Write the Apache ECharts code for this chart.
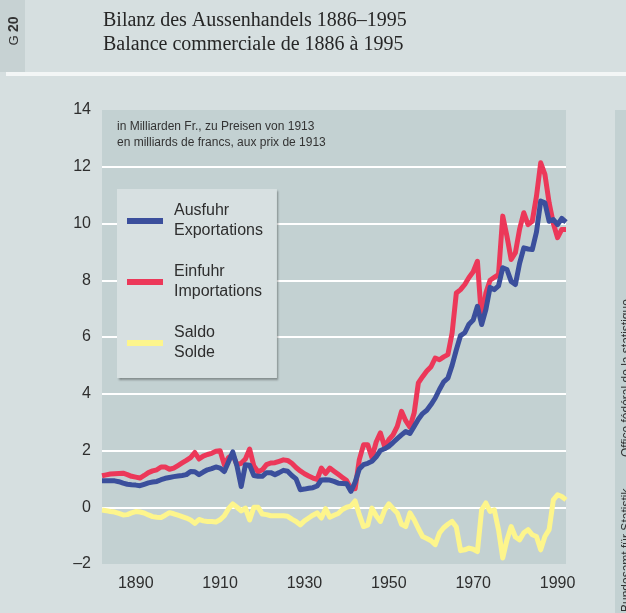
<!DOCTYPE html>
<html>
<head>
<meta charset="utf-8">
<script src="https://cdn.jsdelivr.net/npm/echarts@6/dist/echarts.min.js"></script>
<style>
html,body{margin:0;padding:0;background:#d6dfe0;}
#c{width:626px;height:613px;}
</style>
</head>
<body>
<div id="c"></div>
<script>
// Years 1882..1992 (positions follow the printed year scale)
const startYear = 1882;
const exportsVals = [
  0.93,0.93,0.93,0.93,0.90,0.85,0.81,0.79,
  0.78,0.76,0.81,0.86,0.89,0.91,0.97,1.02,1.05,1.08,
  1.10,1.12,1.15,1.26,1.25,1.15,1.24,1.32,1.36,1.42,
  1.38,1.26,1.60,1.95,1.45,0.73,1.50,1.48,1.12,1.09,
  1.09,1.22,1.22,1.15,1.22,1.30,1.27,1.12,1.00,0.62,
  0.64,0.67,0.69,0.75,0.96,0.97,0.96,0.91,0.85,0.84,
  0.83,0.56,0.88,1.35,1.50,1.55,1.62,1.78,2.00,2.06,
  2.15,2.28,2.42,2.55,2.67,2.60,2.85,3.10,3.30,3.42,
  3.62,3.85,4.15,4.42,4.55,5.00,5.55,6.05,6.15,6.45,
  6.60,7.08,6.44,6.97,7.75,7.67,7.80,8.44,8.38,7.96,
  7.85,8.60,9.14,9.10,9.08,9.70,10.79,10.73,10.08,10.14,
  9.96,10.18,10.05
];
const importsVals = [
  1.11,1.14,1.17,1.18,1.19,1.20,1.15,1.09,
  1.06,1.03,1.12,1.22,1.28,1.32,1.42,1.42,1.34,1.38,
  1.47,1.56,1.65,1.75,1.93,1.70,1.80,1.86,1.90,1.97,
  1.99,1.50,1.75,1.85,1.50,1.55,1.70,2.05,1.45,1.25,
  1.32,1.50,1.56,1.57,1.62,1.67,1.65,1.55,1.40,1.28,
  1.18,1.10,1.03,0.98,1.38,1.19,1.38,1.27,1.16,1.05,
  0.94,0.65,0.65,1.68,2.20,2.20,1.75,2.30,2.62,2.14,
  2.38,2.55,2.85,3.38,3.05,2.82,3.32,4.38,4.60,4.80,
  4.95,5.26,5.20,5.30,5.38,6.14,7.55,7.67,7.85,8.10,
  8.30,8.67,6.60,7.55,8.00,8.10,8.20,10.26,9.55,8.73,
  8.97,9.80,10.38,9.96,10.08,10.96,12.14,11.73,10.73,10.00,
  9.50,9.79,9.79
];
const saldoVals = [
  -0.10,-0.12,-0.15,-0.17,-0.22,-0.27,-0.26,-0.20,
  -0.15,-0.17,-0.20,-0.27,-0.33,-0.35,-0.36,-0.28,-0.19,-0.23,
  -0.28,-0.33,-0.38,-0.45,-0.57,-0.43,-0.48,-0.50,-0.50,-0.52,
  -0.44,-0.30,-0.05,0.12,0.00,-0.13,-0.03,-0.45,0.00,0.00,
  -0.24,-0.26,-0.30,-0.30,-0.30,-0.30,-0.32,-0.42,-0.50,-0.62,
  -0.48,-0.38,-0.28,-0.20,-0.38,-0.05,-0.35,-0.28,-0.22,-0.08,
  0.00,0.04,0.22,-0.26,-0.68,-0.63,-0.03,-0.30,-0.50,-0.10,
  0.12,-0.05,-0.20,-0.60,-0.68,-0.20,-0.44,-0.75,-1.03,-1.10,
  -1.18,-1.32,-0.91,-0.72,-0.60,-0.50,-0.70,-1.53,-1.50,-1.44,
  -1.48,-1.56,-0.09,0.15,-0.15,-0.09,-0.79,-1.79,-1.15,-0.68,
  -1.05,-1.15,-0.90,-0.79,-0.97,-1.03,-1.50,-1.03,-0.79,0.26,
  0.44,0.38,0.26
];
const xTickLabels = [1890, 1910, 1930, 1950, 1970, 1990];
const seriesNames = ['Ausfuhr\nExportations', 'Einfuhr\nImportations', 'Saldo\nSolde'];
const titleLines = ['Bilanz des Aussenhandels 1886–1995', 'Balance commerciale de 1886 à 1995'];
const unitLines = ['in Milliarden Fr., zu Preisen von 1913', 'en milliards de francs, aux prix de 1913'];
const sourceTexts = ['Bundesamt für Statistik', 'Office fédéral de la statistique'];

function pairs(vals){ return vals.map((v,i)=>[startYear+i, v]); }

const sans = '"Liberation Sans", Arial, sans-serif';
const chart = echarts.init(document.getElementById('c'), null, {renderer:'canvas'});
chart.setOption({
  animation: false,
  backgroundColor: '#d6dfe0',
  grid: {left: 102, right: 60, top: 110, bottom: 49, show: true, backgroundColor: '#c3d1d2', borderWidth: 0},
  xAxis: {
    type: 'value', min: 1882, max: 1992,
    axisLine: {show: false}, axisTick: {show: false}, splitLine: {show: false},
    axisLabel: {customValues: xTickLabels, formatter: v => String(v), fontSize: 16, color: '#2e2e2e', margin: 12, fontFamily: sans}
  },
  yAxis: {
    type: 'value', min: -2, max: 14, interval: 2,
    axisLine: {show: false}, axisTick: {show: false},
    splitLine: {show: true, showMinLine: false, showMaxLine: false, lineStyle: {color: '#ffffff', width: 2}},
    axisLabel: {fontSize: 16, color: '#2e2e2e', margin: 11, fontFamily: sans, formatter: v => String(v).replace('-', '–')}
  },
  legend: {
    orient: 'vertical', left: 117, top: 189,
    data: seriesNames,
    icon: 'rect', itemWidth: 36, itemHeight: 6, itemGap: 21,
    padding: [12, 14, 15, 10],
    backgroundColor: '#d7e0e1',
    borderWidth: 0,
    shadowColor: 'rgba(0,0,0,0.35)', shadowBlur: 2, shadowOffsetX: 1.5, shadowOffsetY: 1.5,
    selectedMode: false,
    textStyle: {fontSize: 16, lineHeight: 20, color: '#2e2e2e', fontFamily: sans, padding: [0,0,0,6]}
  },
  series: [
    {name: seriesNames[2], type: 'line', data: pairs(saldoVals), showSymbol: false, z: 1,
     lineStyle: {color: '#fdf58c', width: 5, join: 'round'}, itemStyle: {color: '#fdf58c'}},
    {name: seriesNames[1], type: 'line', data: pairs(importsVals), showSymbol: false, z: 2,
     lineStyle: {color: '#ec3859', width: 5, join: 'round'}, itemStyle: {color: '#ec3859'}},
    {name: seriesNames[0], type: 'line', data: pairs(exportsVals), showSymbol: false, z: 3,
     lineStyle: {color: '#3b4f9c', width: 5, join: 'round'}, itemStyle: {color: '#3b4f9c'}}
  ],
  graphic: [
    {type: 'rect', z: -10, shape: {x: 0, y: 0, width: 25, height: 72}, style: {fill: '#c7d2d3'}},
    {type: 'rect', z: -10, shape: {x: 6, y: 72, width: 620, height: 4}, style: {fill: '#f3f6f6'}},
    {type: 'rect', z: -10, shape: {x: 615, y: 110, width: 11, height: 503}, style: {fill: '#c3d1d2'}},
    {type: 'text', x: 14, y: 31, rotation: Math.PI/2,
     style: {text: '{a|G} {b|20}', align: 'center', verticalAlign: 'middle',
       rich: {a: {fontSize: 13, fontFamily: sans, fill: '#333'}, b: {fontSize: 14, fontWeight: 'bold', fontFamily: sans, fill: '#333'}}}},
    {type: 'text', x: 103, y: 9,
     style: {text: titleLines.join('\n'), font: '20px "Liberation Serif", serif', lineHeight: 24, fill: '#262626'}},
    {type: 'text', x: 117, y: 119,
     style: {text: unitLines.join('\n'), font: '12px ' + sans, lineHeight: 16, fill: '#333'}},
    {type: 'text', x: 621, y: 612, rotation: Math.PI/2,
     style: {text: sourceTexts[0], font: '12px ' + sans, fill: '#333', verticalAlign: 'top'}},
    {type: 'text', x: 621, y: 457, rotation: Math.PI/2,
     style: {text: sourceTexts[1], font: '12px ' + sans, fill: '#333', verticalAlign: 'top'}}
  ]
});
</script>
</body>
</html>
